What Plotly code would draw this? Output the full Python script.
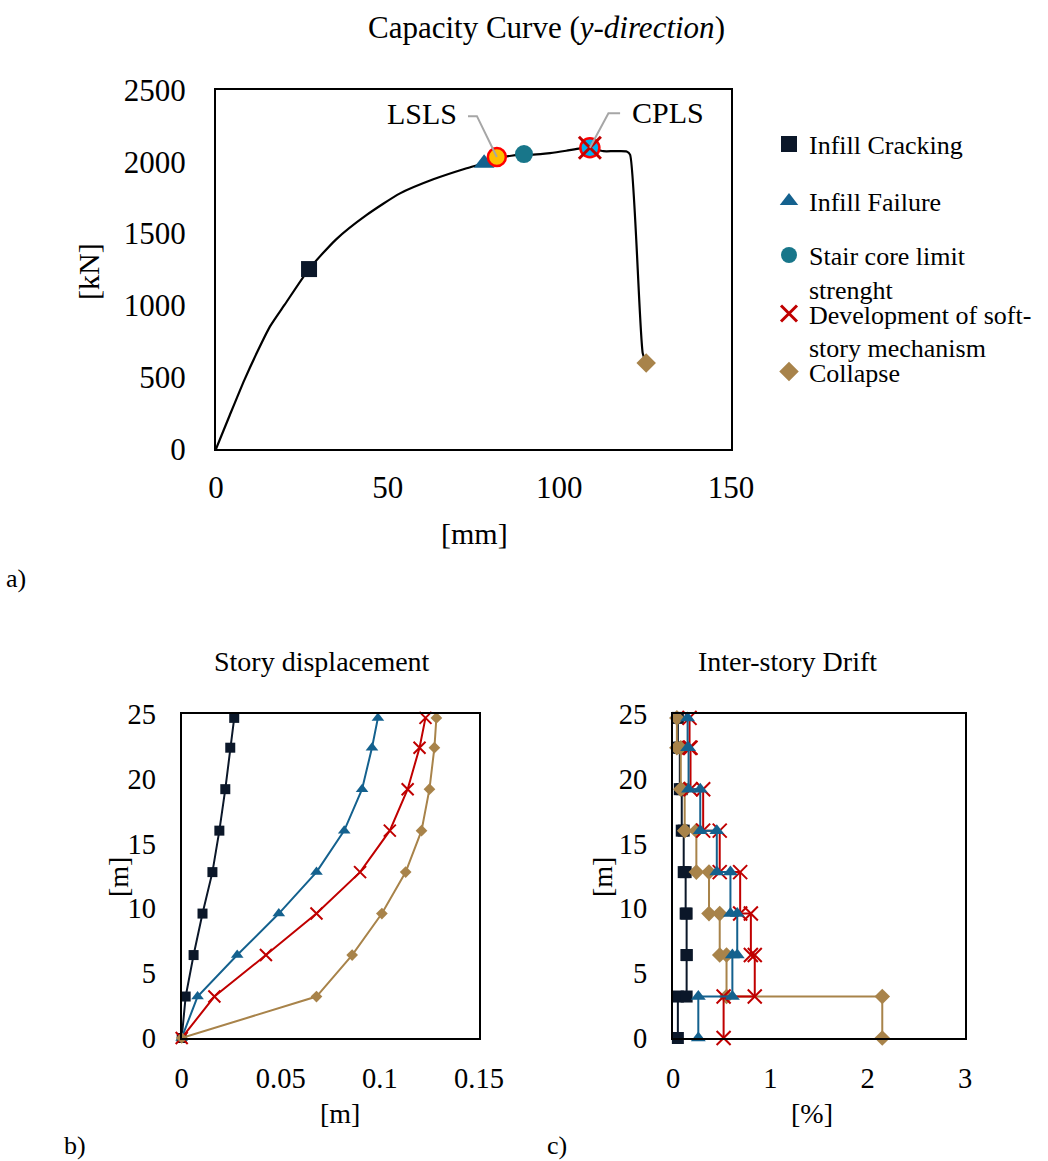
import plotly.graph_objects as go

# ---------------- data ----------------
# capacity curve (y-direction): roof displacement [mm] vs base shear [kN]
cap_disp = [0, 4, 8.25, 12, 15.7, 20, 27.1, 35, 43.9, 53.6, 63.3, 73, 78.1, 81.8, 86, 89.7,
            92.4, 97.3, 102, 106, 108.9, 112.8, 116, 119.6, 120.6, 124.3, 125.3]
cap_force = [0, 235, 480, 675, 852, 1005, 1253, 1460, 1630, 1780, 1878, 1955, 1990, 2025, 2042, 2052,
             2050, 2060, 2077, 2094, 2098, 2074, 2074, 2072, 2050, 666, 599]

# events on the capacity curve
crack_pt = (27.1, 1253)
fail_pt = (78.1, 1990)
stair_pt = (89.7, 2054)
soft_pt = (108.9, 2098)
collapse_pt = (125.3, 599)
lsls_pt = (81.8, 2033)
cpls_pt = (108.9, 2098)

event_labels = ["Infill Cracking", "Infill Failure", "Stair core limit<br>strenght",
                "Development of soft-<br>story mechanism", "Collapse"]

# story levels [m]
levels = [0, 3.2, 6.4, 9.6, 12.8, 16.0, 19.2, 22.4, 24.7]

# story displacement [m]
disp_crack = [0, 0.002, 0.006, 0.0105, 0.0155, 0.019, 0.022, 0.0245, 0.0265]
disp_fail = [0, 0.008, 0.028, 0.049, 0.068, 0.082, 0.091, 0.096, 0.099]
disp_soft = [0, 0.0165, 0.0425, 0.068, 0.090, 0.105, 0.114, 0.120, 0.123]
disp_coll = [0, 0.068, 0.086, 0.101, 0.113, 0.121, 0.125, 0.1275, 0.1285]

# inter-story drift [%] per story (story 1 .. 8)
drift_crack = [0.05, 0.14, 0.14, 0.13, 0.11, 0.09, 0.07, 0.05]
drift_fail = [0.26, 0.61, 0.66, 0.59, 0.45, 0.28, 0.16, 0.15]
drift_soft = [0.52, 0.84, 0.80, 0.69, 0.48, 0.31, 0.18, 0.17]
drift_coll = [2.15, 0.55, 0.48, 0.37, 0.24, 0.12, 0.08, 0.04]

# ---------------- styling ----------------
W, H = 1048, 1161
FONT = "Liberation Serif"
NAVY = "#0B1729"
BLUE = "#14618E"
TEAL = "#18768A"
RED = "#C00000"
BROWN = "#A8834A"


def px(x):
    return x / W


def py(y):
    return 1 - y / H


def step(drifts):
    xs, ys = [], []
    for i, d in enumerate(drifts):
        xs += [d, d]
        ys += [levels[i], levels[i + 1]]
    return xs, ys


fig = go.Figure()

# ---- capacity curve ----
fig.add_trace(go.Scatter(x=cap_disp, y=cap_force, mode="lines",
                         line=dict(color="black", width=2.2, shape="spline", smoothing=0.6),
                         showlegend=False, hoverinfo="skip", xaxis="x", yaxis="y"))

fig.add_trace(go.Scatter(x=[crack_pt[0]], y=[crack_pt[1]], mode="markers", name=event_labels[0],
                         marker=dict(symbol="square", size=16, color=NAVY),
                         legend="legend", xaxis="x", yaxis="y", cliponaxis=False))
fig.add_trace(go.Scatter(x=[fail_pt[0]], y=[fail_pt[1]], mode="markers", name=event_labels[1],
                         marker=dict(symbol="triangle-up", size=18, color=BLUE),
                         legend="legend2", xaxis="x", yaxis="y", cliponaxis=False))
fig.add_trace(go.Scatter(x=[lsls_pt[0]], y=[lsls_pt[1]], mode="markers", showlegend=False,
                         marker=dict(symbol="circle", size=18, color="#FFC000",
                                     line=dict(color="#FF0000", width=2.5)),
                         xaxis="x", yaxis="y", cliponaxis=False))
fig.add_trace(go.Scatter(x=[stair_pt[0]], y=[stair_pt[1]], mode="markers", name=event_labels[2],
                         marker=dict(symbol="circle", size=18, color=TEAL),
                         legend="legend3", xaxis="x", yaxis="y", cliponaxis=False))
fig.add_trace(go.Scatter(x=[cpls_pt[0]], y=[cpls_pt[1]], mode="markers", showlegend=False,
                         marker=dict(symbol="circle", size=19, color="#00B0F0",
                                     line=dict(color="#FF0000", width=2.5)),
                         xaxis="x", yaxis="y", cliponaxis=False))
fig.add_trace(go.Scatter(x=[soft_pt[0]], y=[soft_pt[1]], mode="markers", name=event_labels[3],
                         marker=dict(symbol="x-thin", size=22, color=RED,
                                     line=dict(color=RED, width=3)),
                         legend="legend4", xaxis="x", yaxis="y", cliponaxis=False))
fig.add_trace(go.Scatter(x=[collapse_pt[0]], y=[collapse_pt[1]], mode="markers", name=event_labels[4],
                         marker=dict(symbol="diamond", size=15, color=BROWN),
                         legend="legend5", xaxis="x", yaxis="y", cliponaxis=False))

# ---- story displacement ----
disp_series = [
    (disp_crack, NAVY, dict(symbol="square", size=10, color=NAVY)),
    (disp_fail, BLUE, dict(symbol="triangle-up", size=11, color=BLUE)),
    (disp_soft, RED, dict(symbol="x-thin", size=12, color=RED, line=dict(color=RED, width=2))),
    (disp_coll, BROWN, dict(symbol="diamond", size=9, color=BROWN)),
]
for xs, col, mk in disp_series:
    fig.add_trace(go.Scatter(x=xs, y=levels, mode="lines+markers",
                             line=dict(color=col, width=2), marker=mk,
                             showlegend=False, cliponaxis=False,
                             xaxis="x2", yaxis="y2"))

# ---- inter-story drift ----
drift_series = [
    (drift_crack, NAVY, dict(symbol="square", size=12, color=NAVY)),
    (drift_coll, BROWN, dict(symbol="diamond", size=12, color=BROWN)),
    (drift_soft, RED, dict(symbol="x-thin", size=14, color=RED, line=dict(color=RED, width=2))),
    (drift_fail, BLUE, dict(symbol="triangle-up", size=13, color=BLUE)),
]
for d, col, mk in drift_series:
    xs, ys = step(d)
    fig.add_trace(go.Scatter(x=xs, y=ys, mode="lines+markers",
                             line=dict(color=col, width=2), marker=mk,
                             showlegend=False, cliponaxis=False,
                             xaxis="x3", yaxis="y3"))


def axis(domain, rng, dtick, size, standoff, anchor):
    return dict(domain=domain, range=rng, dtick=dtick, tick0=0, showline=True, linecolor="black",
                linewidth=2, mirror=True, showgrid=False, zeroline=False, ticks="",
                tickfont=dict(family=FONT, size=size, color="black"),
                ticklabelstandoff=standoff, anchor=anchor, fixedrange=True, automargin=False)


TOPX = [px(216), px(731)]
TOPY = [py(449), py(90)]
BLX = [px(181.7), px(479)]
BRX = [px(673), px(965)]
BY = [py(1038), py(714)]

fig.update_layout(
    width=W, height=H, margin=dict(l=0, r=0, t=0, b=0, autoexpand=False),
    paper_bgcolor="white", plot_bgcolor="white",
    font=dict(family=FONT, color="black"),
    xaxis=axis(TOPX, [0, 150], 50, 31, 10, "y"),
    yaxis=axis(TOPY, [0, 2500], 500, 31, 22, "x"),
    xaxis2=axis(BLX, [0, 0.15], 0.05, 28.5, 14, "y2"),
    yaxis2=axis(BY, [0, 25], 5, 28.5, 18, "x2"),
    xaxis3=axis(BRX, [0, 3], 1, 28.5, 14, "y3"),
    yaxis3=axis(BY, [0, 25], 5, 28.5, 18, "x3"),
)

leg_common = dict(x=px(769), xanchor="left", yanchor="top", bgcolor="rgba(0,0,0,0)",
                  font=dict(family=FONT, size=26, color="black"), valign="top",
                  itemwidth=30, borderwidth=0)
leg_tops = [120.6, 177.6, 231.6, 290.1, 348.1]
fig.update_layout(
    legend=dict(y=py(leg_tops[0]), **leg_common),
    legend2=dict(y=py(leg_tops[1]), **leg_common),
    legend3=dict(y=py(leg_tops[2]), **leg_common),
    legend4=dict(y=py(leg_tops[3]), **leg_common),
    legend5=dict(y=py(leg_tops[4]), **leg_common),
)

# leader lines for LSLS / CPLS labels
lsls_path = "M {:.2f},{:.2f} L {:.2f},{:.2f} L {:.2f},{:.2f}".format(
    lsls_pt[0] - 8.4, lsls_pt[1] + 285, lsls_pt[0] - 5.8, lsls_pt[1] + 285, lsls_pt[0], lsls_pt[1])
cpls_path = "M {:.2f},{:.2f} L {:.2f},{:.2f} L {:.2f},{:.2f}".format(
    cpls_pt[0] + 8.8, cpls_pt[1] + 240, cpls_pt[0] + 5.4, cpls_pt[1] + 240, cpls_pt[0], cpls_pt[1])
fig.update_layout(shapes=[
    dict(type="path", path=lsls_path, xref="x", yref="y", line=dict(color="#A6A6A6", width=2)),
    dict(type="path", path=cpls_path, xref="x", yref="y", line=dict(color="#A6A6A6", width=2)),
])


def ann(text, x, y, size, angle=0, xanchor="center"):
    return dict(text=text, x=px(x), y=py(y), xref="paper", yref="paper", showarrow=False,
                font=dict(family=FONT, size=size, color="black"), textangle=angle,
                xanchor=xanchor, yanchor="middle")


annotations = [
    ann("Capacity Curve (<i>y-direction</i>)", 546, 28, 31),
    ann("[mm]", 474, 533, 30),
    ann("[kN]", 88, 272, 30, angle=-90),
    ann("a)", 16, 578, 26),
    ann("Story displacement", 322, 661, 28),
    ann("Inter-story Drift", 787, 661, 28),
    ann("[m]", 340, 1113, 28),
    ann("[m]", 118, 877, 28, angle=-90),
    ann("[%]", 812, 1113, 28),
    ann("[m]", 602, 877, 28, angle=-90),
    ann("b)", 75, 1145, 26),
    ann("c)", 557, 1145, 26),
    dict(text="LSLS", x=59.9, y=2335, xref="x", yref="y", showarrow=False,
         font=dict(family=FONT, size=30, color="black"), xanchor="center", yanchor="middle"),
    dict(text="CPLS", x=131.6, y=2343, xref="x", yref="y", showarrow=False,
         font=dict(family=FONT, size=30, color="black"), xanchor="center", yanchor="middle"),
]
fig.update_layout(annotations=annotations)

fig.write_html("out.html")
